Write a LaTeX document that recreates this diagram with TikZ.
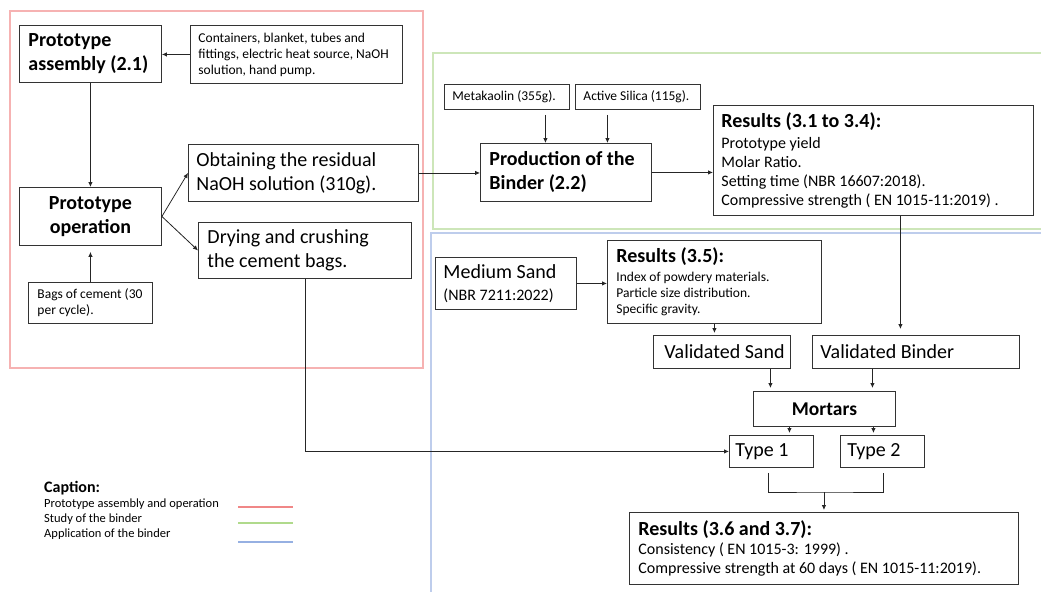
\documentclass[tikz,border=0pt]{standalone}
\usepackage{fontspec}
\setmainfont{Carlito}
\usetikzlibrary{arrows.meta,calc}
\definecolor{rgred}{RGB}{240,135,135}
\definecolor{rggreen}{RGB}{176,218,140}
\definecolor{rgblue}{RGB}{150,176,226}
\definecolor{bxred}{RGB}{246,178,178}
\definecolor{bxgreen}{RGB}{205,230,185}
\definecolor{bxblue}{RGB}{190,205,236}
\begin{document}
\begin{tikzpicture}[x=1pt,y=-1pt,
  bx/.style={draw=black!80, line width=0.9pt, anchor=north west, inner xsep=8pt, inner ysep=0pt, align=flush left},
  big/.style={font=\fontsize{20}{24}\selectfont},
  bigb/.style={font=\fontsize{20}{24}\selectfont\bfseries},
  small/.style={font=\fontsize{13.5}{16}\selectfont},
  mid/.style={font=\fontsize{16}{19}\selectfont},
  arr/.style={draw=black!85, line width=0.8pt, -{Latex[length=5pt,width=4.5pt]}},
  ln/.style={draw=black!85, line width=0.8pt},
  region/.style={line width=1.2pt},
]
\fill[white] (0,0) rectangle (1041,592);
\useasboundingbox (0,0) rectangle (1041,592);

% regions
\draw[region, bxred] (10,11) rectangle (423,368);
\draw[region, bxgreen] (1041,53) -- (433,53) -- (433,229) -- (1041,229);
\draw[region, bxblue] (1041,233) -- (431,233) -- (431,592);

% left group
\node[bx, bigb, text width=124pt, inner xsep=9pt, minimum height=57pt] (asm) at (19,25) {Prototype\\\mbox{assembly (2.1)}};
\node[bx, small, text width=196pt, minimum height=58pt] (cont) at (190,25) {\mbox{Containers, blanket, tubes and}\\\mbox{fittings, electric heat source, NaOH}\\\mbox{solution, hand pump.}};
\node[bx, bigb, text width=126pt, align=flush center, minimum height=58pt] (op) at (19,187) {Prototype\\operation};
\node[bx, small, text width=106pt, inner xsep=9pt, minimum height=41pt] (bags) at (28,282) {\mbox{Bags of cement (30}\\\mbox{per cycle).}};
\node[bx, big, text width=214pt, minimum height=57pt] (ob) at (188,144) {\mbox{Obtaining the residual}\\\mbox{NaOH solution (310g).}};
\node[bx, big, text width=195pt, inner xsep=9pt, minimum height=56pt] (dry) at (198,222) {\mbox{Drying and crushing}\\\mbox{the cement bags.}};

% binder group
\node[bx, small, text width=109pt, minimum height=25pt] (meta) at (444,84) {\mbox{Metakaolin (355g).}};
\node[bx, small, text width=109pt, minimum height=25pt] (sil) at (575,84) {\mbox{Active Silica (115g).}};
\node[bx, bigb, text width=153pt, inner xsep=9pt, minimum height=58pt] (prod) at (480,143) {\mbox{Production of the}\\\mbox{Binder (2.2)}};
\node[bx, mid, text width=304pt, minimum height=110pt] (res1) at (713,105) {\mbox{\fontsize{20}{24}\selectfont\bfseries Results (3.1 to 3.4):}\\[1.5pt]\mbox{Prototype yield}\\\mbox{Molar Ratio.}\\\mbox{Setting time (NBR 16607:2018).}\\\mbox{Compressive strength ( EN 1015-11:2019) .}};

% application group
\node[bx, mid, text width=125pt, minimum height=52pt] (med) at (435,257) {\mbox{\fontsize{20}{24}\selectfont Medium Sand}\\[2.7pt]\mbox{(NBR 7211:2022)}};
\node[bx, small, text width=196pt, inner xsep=9pt, minimum height=83pt] (res35) at (607,240) {\mbox{\fontsize{20}{24}\selectfont\bfseries Results (3.5):}\\[3pt]\mbox{Index of powdery materials.}\\\mbox{Particle size distribution.}\\\mbox{Specific gravity.}};
\node[bx, big, text width=115pt, inner xsep=11pt, minimum height=33pt] (vsand) at (653,335) {\mbox{Validated Sand}};
\node[bx, big, text width=191pt, minimum height=33pt] (vbind) at (812,335) {\mbox{Validated Binder}};
\node[bx, font=\fontsize{19.5}{24}\selectfont\bfseries, text width=126pt, align=flush center, minimum height=35pt] (mort) at (753,391) {Mortars};
\node[bx, big, text width=72pt, inner xsep=6pt, minimum height=32pt] (t1) at (729,435) {\mbox{Type 1}};
\node[bx, big, text width=70pt, inner xsep=7pt, minimum height=32pt] (t2) at (840,435) {\mbox{Type 2}};
\node[bx, mid, text width=371pt, inner xsep=9pt, minimum height=72pt] (res36) at (629,512) {\mbox{\fontsize{20}{24}\selectfont\bfseries Results (3.6 and 3.7):}\\\mbox{Consistency ( EN 1015-3: 1999) .}\\\mbox{Compressive strength at 60 days ( EN 1015-11:2019).}};

% caption
\node[anchor=west, font=\fontsize{16}{19}\selectfont\bfseries, inner sep=0pt] (cap) at (44,488) {Caption:};
\node[anchor=west, font=\fontsize{12.5}{15}\selectfont, inner sep=0pt] (lg1) at (44,504) {Prototype assembly and operation};
\node[anchor=west, font=\fontsize{12.5}{15}\selectfont, inner sep=0pt] (lg2) at (44,519) {Study of the binder};
\node[anchor=west, font=\fontsize{12.5}{15}\selectfont, inner sep=0pt] (lg3) at (44,534) {Application of the binder};
\draw[rgred, line width=1.3pt] (238,507) -- (293,507);
\draw[rggreen, line width=1.3pt] (238,523) -- (293,523);
\draw[rgblue, line width=1.3pt] (238,542) -- (293,542);

% connectors
\draw[arr] (cont.west) -- (cont.west -| asm.east);
\draw[arr] (asm.south) -- (op.north);
\draw[arr, shorten >=6pt] (bags.north) -- (op.south);
\draw[arr] (op.east) -- (ob.west);
\draw[arr] (op.east) -- (dry.west);
\draw[arr] (ob.east) -- (ob.east -| prod.west);
\draw[arr] ([xshift=38.5pt,yshift=-5pt]meta.south) -- ([xshift=38.5pt]meta.south |- prod.north);
\draw[arr] ([xshift=-30.5pt,yshift=-5pt]sil.south) -- ([xshift=-30.5pt]sil.south |- prod.north);
\draw[arr] (prod.east) -- (prod.east -| res1.west);
\draw[arr, shorten >=6pt] ([xshift=27pt]res1.south) -- ([xshift=27pt]res1.south |- vbind.north);
\draw[arr] (med.east) -- (med.east -| res35.west);
\draw[arr, shorten >=2pt] (res35.south) -- (res35.south |- vsand.north);
\draw[arr, shorten >=3pt] ([xshift=-54pt]mort.north |- vsand.south) -- ([xshift=-54pt]mort.north);
\draw[arr, shorten >=3pt] ([xshift=48pt]mort.north |- vbind.south) -- ([xshift=48pt]mort.north);
\draw[arr, shorten >=2pt] ([xshift=-35pt]mort.south) -- ([xshift=-35pt]mort.south |- t1.north);
\draw[arr, shorten >=2pt] ([xshift=49pt]mort.south) -- ([xshift=49pt]mort.south |- t2.north);
\draw[arr] (dry.south) |- (t1.west);
\coordinate (bj) at ($(res36.north)+(0,-20)$);
\draw[ln] ([xshift=-3pt,yshift=-5pt]t1.south) |- (bj) -| ([xshift=1pt,yshift=-5pt]t2.south);
\draw[arr, shorten >=2pt] (bj) -- (res36.north);
\end{tikzpicture}
\end{document}
